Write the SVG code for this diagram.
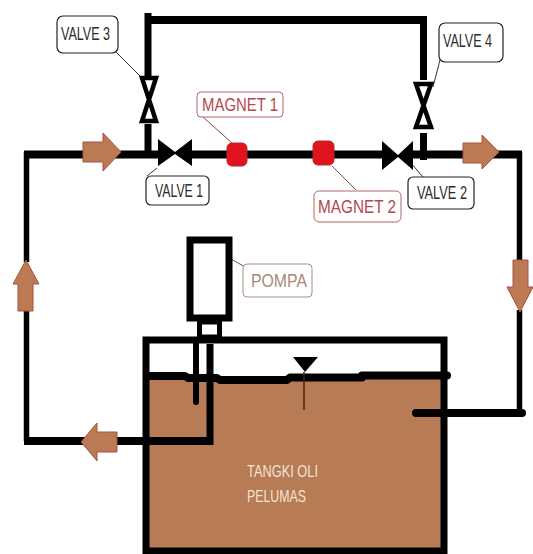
<svg xmlns="http://www.w3.org/2000/svg" width="533" height="554" viewBox="0 0 533 554">
<style>
.h{fill:none;stroke:#000;stroke-width:8}
.s{fill:none;stroke:#000;stroke-width:5.500}
.m{fill:none;stroke:#000;stroke-width:7}
.thin{fill:none;stroke:#000;stroke-width:6;stroke-linecap:round}
.arr{fill:#bb7a54;stroke:#a5543f;stroke-width:1}
.lab{fill:#fff;stroke:#222;stroke-width:1.2}
.lead{fill:none;stroke:#333;stroke-width:1}
.redlab{fill:#fff;stroke:#b5666a;stroke-width:1}
.redlead{fill:none;stroke:#8c4a4a;stroke-width:1}
text{font-family:"Liberation Sans",Arial,sans-serif;font-size:18px;fill:#2b2b2b}
.r{fill:#b5474e;font-size:19px}
.mag{fill:#e0141f;stroke:#b52a2a;stroke-width:1}
.v{fill:#fff;stroke:#000;stroke-width:4.500}
</style>
<rect width="533" height="554" fill="#fff"/>
<g id="tank">
<rect x="146" y="340" width="298" height="211" fill="#fff"/>
<rect x="146" y="378" width="298" height="172" fill="#b77b56"/>
<rect x="146" y="340" width="298" height="211" fill="none" stroke="#000" stroke-width="7"/>
<path d="M148 376H185L188 378H217L220 380H287L290 377.500H362V375.500H387V375.500H447" fill="none" stroke="#000" stroke-width="8" stroke-linecap="round" stroke-linejoin="round"/>
<path d="M293 357H318L305 372Z" fill="#000"/>
<path d="M304 372V410" stroke="#4a1f14" stroke-width="1.500" fill="none"/>
<text x="247" y="477" style="fill:#f3e3d0;font-size:17px" textLength="71" lengthAdjust="spacingAndGlyphs">TANGKI OLI</text>
<text x="247" y="502" style="fill:#f3e3d0;font-size:17px" textLength="59" lengthAdjust="spacingAndGlyphs">PELUMAS</text>
</g>
<g id="connectors">
<path class="h" d="M24 154.500H160M190 154.500H385M412 154.500H522"/>
<path class="h" d="M147 20H427"/>
<path class="m" d="M148 13V76M148 124V154M423.500 20V80M423.500 133V160"/>
<path class="s" d="M26.500 152V262M26.500 310V441M519.500 152V260M519.500 310V417"/>
<path class="h" d="M24 441H213"/>
<path class="m" d="M210 344V445"/>
<path class="thin" d="M196 344V402"/>
<path class="h" d="M416 413H522" stroke-linecap="round"/>
<path class="redlead" d="M231 259L247 268"/>
<path class="redlead" d="M203 117L232 143M332 166L356 190"/>
<path class="lead" d="M115 51L140 76M157 168L147 176M440 60L433 87M410 162L423 177"/>
</g>
<g id="pump">
<rect x="190" y="240" width="39" height="78" fill="#fff" stroke="#000" stroke-width="7"/>
<rect x="199.500" y="322" width="20" height="15" fill="#fff" stroke="#000" stroke-width="5"/>
<path class="redlab" style="stroke:#a89080" d="M247 264H308Q312 264 312 268V293Q312 297 308 297H247Q243 297 243 293V268Q243 264 247 264Z"/>
<text x="251" y="287" style="fill:#a88a78" textLength="56" lengthAdjust="spacingAndGlyphs">POMPA</text>
</g>
<g id="arrow-1"><path class="arr" d="M83 142H103V133L121 152L103 171V162H83Z"/></g>
<g id="arrow-2"><path class="arr" d="M463 143H482V135L499 152L482 169V163H463Z"/></g>
<g id="arrow-3"><path class="arr" d="M18 311V284H13L26 260L39 284H33V311Z"/></g>
<g id="arrow-4"><path class="arr" d="M117 432H97V423L81 442L97 461V452H117Z"/></g>
<g id="arrow-5"><path class="arr" d="M513 260H528V287H533L520 312L507 287H513Z"/></g>
<g id="valve-1">
<path d="M158 139L175 152L192 139V166L175 154L158 166Z" fill="#000"/>
<rect class="lab" x="146" y="176" width="63" height="29" rx="5"/>
<text x="155" y="197" textLength="48" lengthAdjust="spacingAndGlyphs">VALVE 1</text>
</g>
<g id="valve-2">
<path d="M382 141L398 155L413 141V170L398 157L382 170Z" fill="#000"/>
<rect class="lab" x="408" y="177" width="66" height="32" rx="5"/>
<text x="417" y="199" textLength="50" lengthAdjust="spacingAndGlyphs">VALVE 2</text>
</g>
<g id="valve-3">
<path class="v" d="M142 78H156L149 99.500L156 121H142L149 99.500Z"/>
<rect class="lab" x="57" y="16" width="61" height="37" rx="6"/>
<text x="61" y="40" textLength="49" lengthAdjust="spacingAndGlyphs">VALVE 3</text>
</g>
<g id="valve-4">
<path class="v" d="M416 84H431L423.500 105.500L431 127H416L423.500 105.500Z"/>
<rect class="lab" x="439" y="23" width="64" height="39" rx="6"/>
<text x="443" y="47" textLength="49" lengthAdjust="spacingAndGlyphs">VALVE 4</text>
</g>
<g id="magnet-1">
<rect class="mag" x="227" y="143" width="20" height="23" rx="5"/>
<rect class="redlab" x="197" y="92" width="86" height="25" rx="4"/>
<text class="r" x="202" y="111" textLength="76" lengthAdjust="spacingAndGlyphs">MAGNET 1</text>
</g>
<g id="magnet-2">
<rect class="mag" x="313" y="141" width="21" height="24" rx="5"/>
<rect class="redlab" x="314" y="191" width="87" height="31" rx="5"/>
<text class="r" x="318" y="213" textLength="78" lengthAdjust="spacingAndGlyphs">MAGNET 2</text>
</g>
</svg>
